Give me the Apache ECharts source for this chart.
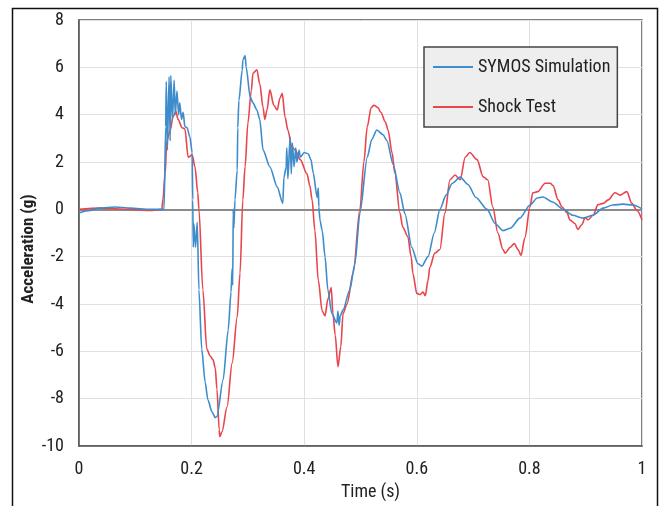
<!DOCTYPE html>
<html>
<head>
<meta charset="utf-8">
<script src="https://cdn.jsdelivr.net/npm/echarts@6/dist/echarts.min.js"></script>
<style>
html,body{margin:0;padding:0;background:#fff;}
#chart{width:664px;height:506px;}
</style>
</head>
<body>
<div id="chart"></div>
<script>
// SYMOS Simulation (time in s, acceleration in g)
var simTime = [0.000,0.020,0.037,0.064,0.091,0.126,0.149,0.151,0.154,0.155,0.157,0.160,0.162,0.163,0.166,0.169,0.171,0.174,0.177,0.179,0.182,0.185,0.188,0.192,0.197,0.201,0.202,0.203,0.204,0.207,0.210,0.213,0.218,0.224,0.229,0.236,0.242,0.245,0.256,0.265,0.270,0.272,0.273,0.274,0.275,0.277,0.281,0.282,0.284,0.290,0.291,0.295,0.297,0.304,0.309,0.316,0.321,0.327,0.339,0.352,0.362,0.364,0.368,0.369,0.371,0.375,0.377,0.379,0.382,0.385,0.387,0.391,0.393,0.400,0.407,0.412,0.416,0.423,0.425,0.426,0.428,0.432,0.437,0.442,0.449,0.458,0.460,0.462,0.464,0.469,0.481,0.490,0.499,0.512,0.520,0.529,0.540,0.547,0.558,0.570,0.579,0.591,0.602,0.609,0.620,0.631,0.641,0.652,0.663,0.677,0.691,0.705,0.725,0.739,0.753,0.766,0.783,0.801,0.814,0.824,0.842,0.860,0.877,0.895,0.913,0.931,0.948,0.966,0.984,1.000];
var simAccel = [-0.15,-0.05,0.05,0.1,0.05,0.0,0.0,0.0,3.5,5.4,2.5,5.6,2.9,5.65,3.8,5.45,4.0,5.0,4.0,4.5,3.8,4.1,3.5,3.45,3.05,2.4,0.4,-1.6,-0.6,-1.6,-0.55,-3.4,-5.9,-7.3,-8.05,-8.55,-8.8,-8.75,-7.2,-5.1,-3.5,-2.5,-3.2,0.0,-0.8,0.4,1.65,3.45,4.6,5.9,6.3,6.5,6.0,4.75,4.5,4.2,3.8,2.5,1.8,0.95,0.25,1.35,1.8,2.6,1.3,3.05,1.5,2.8,1.8,2.6,2.0,2.5,2.2,2.4,2.35,2.1,1.55,0.5,0.9,0.1,-0.45,-0.9,-2.0,-3.4,-4.4,-4.8,-4.3,-4.9,-4.5,-4.25,-3.4,-2.3,-0.15,2.2,2.95,3.35,3.15,2.9,1.9,0.7,-0.2,-1.6,-2.3,-2.4,-2.0,-1.0,0.0,0.6,1.1,1.36,1.05,0.5,0.0,-0.6,-0.9,-0.8,-0.37,0.18,0.48,0.52,0.3,0.0,-0.25,-0.37,-0.25,0.05,0.18,0.22,0.18,0.02];

// Shock Test
var testTime = [0.000,0.037,0.091,0.126,0.147,0.149,0.153,0.156,0.162,0.167,0.172,0.176,0.183,0.188,0.194,0.201,0.206,0.211,0.213,0.220,0.227,0.233,0.238,0.242,0.245,0.249,0.250,0.254,0.263,0.272,0.281,0.286,0.291,0.295,0.300,0.306,0.309,0.316,0.321,0.327,0.330,0.334,0.339,0.346,0.352,0.357,0.361,0.366,0.371,0.378,0.384,0.393,0.405,0.410,0.414,0.419,0.425,0.432,0.437,0.442,0.448,0.451,0.455,0.460,0.465,0.469,0.476,0.487,0.499,0.506,0.512,0.519,0.524,0.531,0.536,0.544,0.549,0.556,0.561,0.570,0.575,0.584,0.590,0.593,0.600,0.606,0.611,0.615,0.620,0.623,0.632,0.641,0.650,0.659,0.668,0.677,0.686,0.694,0.707,0.718,0.726,0.735,0.744,0.753,0.757,0.766,0.773,0.780,0.785,0.792,0.801,0.806,0.815,0.828,0.837,0.842,0.851,0.858,0.867,0.872,0.881,0.886,0.893,0.899,0.904,0.913,0.922,0.931,0.940,0.952,0.961,0.973,0.982,0.991,1.000];
var testAccel = [0.0,0.05,0.0,-0.05,0.0,0.4,1.5,2.9,3.35,3.9,4.15,3.8,3.45,3.4,2.2,2.3,1.8,0.7,0.0,-3.4,-5.9,-6.2,-6.35,-6.7,-7.6,-9.3,-9.6,-9.4,-8.35,-6.5,-4.55,-2.7,0.4,1.8,3.65,5.0,5.75,5.9,5.3,4.3,3.8,4.2,5.05,4.4,4.2,4.7,4.9,3.9,3.35,2.65,2.5,2.1,1.5,1.0,0.4,-0.9,-3.0,-4.3,-4.5,-3.8,-3.3,-4.4,-5.3,-6.65,-5.8,-4.4,-4.0,-2.7,0.0,2.0,3.5,4.3,4.4,4.3,4.1,3.7,3.35,2.4,1.53,-0.15,-0.75,-1.15,-2.0,-2.7,-3.55,-3.6,-3.5,-3.65,-3.0,-2.45,-1.85,-1.7,-0.15,1.25,1.45,1.25,2.2,2.4,2.1,1.37,1.25,0.1,-1.0,-1.7,-1.85,-1.6,-1.45,-1.7,-1.95,-1.2,0.1,0.7,0.75,1.1,1.1,1.0,0.4,0.1,-0.15,-0.45,-0.6,-0.85,-0.65,-0.35,-0.45,-0.25,0.2,0.25,0.4,0.7,0.6,0.75,0.25,-0.05,-0.45];

var seriesNames = ['SYMOS Simulation', 'Shock Test'];
var xTicks = [0, 0.2, 0.4, 0.6, 0.8, 1];
var yTicks = [-10, -8, -6, -4, -2, 0, 2, 4, 6, 8];

function pairs(t, v) { return t.map(function (x, i) { return [x, v[i]]; }); }

var FONT = "'Roboto Condensed', Roboto, sans-serif";
var chart = echarts.init(document.getElementById('chart'), null, {renderer: 'canvas'});
chart.setOption({
  animation: false,
  backgroundColor: '#fff',
  graphic: [{
    type: 'rect', left: 10, top: 6, silent: true,
    shape: {width: 645, height: 510},
    style: {fill: 'none', stroke: '#111', lineWidth: 1.5}
  }],
  grid: {left: 79, right: 22, top: 20, bottom: 60, show: true, borderColor: '#555', borderWidth: 1.5, backgroundColor: '#fff', outerBoundsMode: 'none'},
  legend: {
    data: seriesNames, orient: 'vertical', left: 424, top: 47,
    backgroundColor: '#eeeeee', borderColor: '#444', borderWidth: 1.5,
    padding: [10, 7, 10, 9], itemGap: 20, itemWidth: 40, itemHeight: 2, icon: 'rect',
    textStyle: {fontFamily: FONT, fontSize: 18, color: '#222', lineHeight: 20}
  },
  xAxis: {
    type: 'value', min: xTicks[0], max: xTicks[xTicks.length - 1], interval: 0.2,
    name: 'Time (s)', nameLocation: 'middle', nameGap: 37, nameMoveOverlap: false,
    nameTextStyle: {fontFamily: FONT, fontSize: 18, color: '#222', padding: [0, 0, 0, 20]},
    axisLine: {show: true, onZero: false, lineStyle: {color: '#555', width: 1.5}},
    axisTick: {show: false},
    axisLabel: {fontFamily: FONT, fontSize: 18, color: '#222', margin: 14,
      formatter: function (v) { return String(+v.toFixed(1)); }},
    splitLine: {show: true, lineStyle: {color: '#e0e0e0', width: 1}}
  },
  yAxis: {
    type: 'value', min: yTicks[0], max: yTicks[yTicks.length - 1], interval: 2,
    name: 'Acceleration (g)', nameLocation: 'middle', nameGap: 42, nameMoveOverlap: false,
    nameTextStyle: {fontFamily: FONT, fontSize: 17, fontWeight: 'bold', color: '#222', padding: [0, 32, 0, 0]},
    axisLine: {show: true, onZero: false, lineStyle: {color: '#555', width: 1.5}},
    axisTick: {show: false},
    axisLabel: {fontFamily: FONT, fontSize: 18, color: '#222', margin: 15},
    splitLine: {show: true, lineStyle: {color: '#e0e0e0', width: 1}}
  },
  series: [{
    name: seriesNames[0], type: 'line', data: pairs(simTime, simAccel),
    showSymbol: false, symbol: 'none', smooth: 0.25, smoothMonotone: 'x',
    lineStyle: {color: '#3d8ccc', width: 1.6}, itemStyle: {color: '#3d8ccc'}, z: 3,
    markLine: {silent: true, symbol: 'none', label: {show: false},
      lineStyle: {color: '#8c8c8c', width: 2, type: 'solid'}, data: [{yAxis: 0}], z: 1}
  }, {
    name: seriesNames[1], type: 'line', data: pairs(testTime, testAccel),
    showSymbol: false, symbol: 'none', smooth: 0.3, smoothMonotone: 'x',
    lineStyle: {color: '#e8454c', width: 1.6}, itemStyle: {color: '#e8454c'}, z: 2
  }]
});
</script>
</body>
</html>
